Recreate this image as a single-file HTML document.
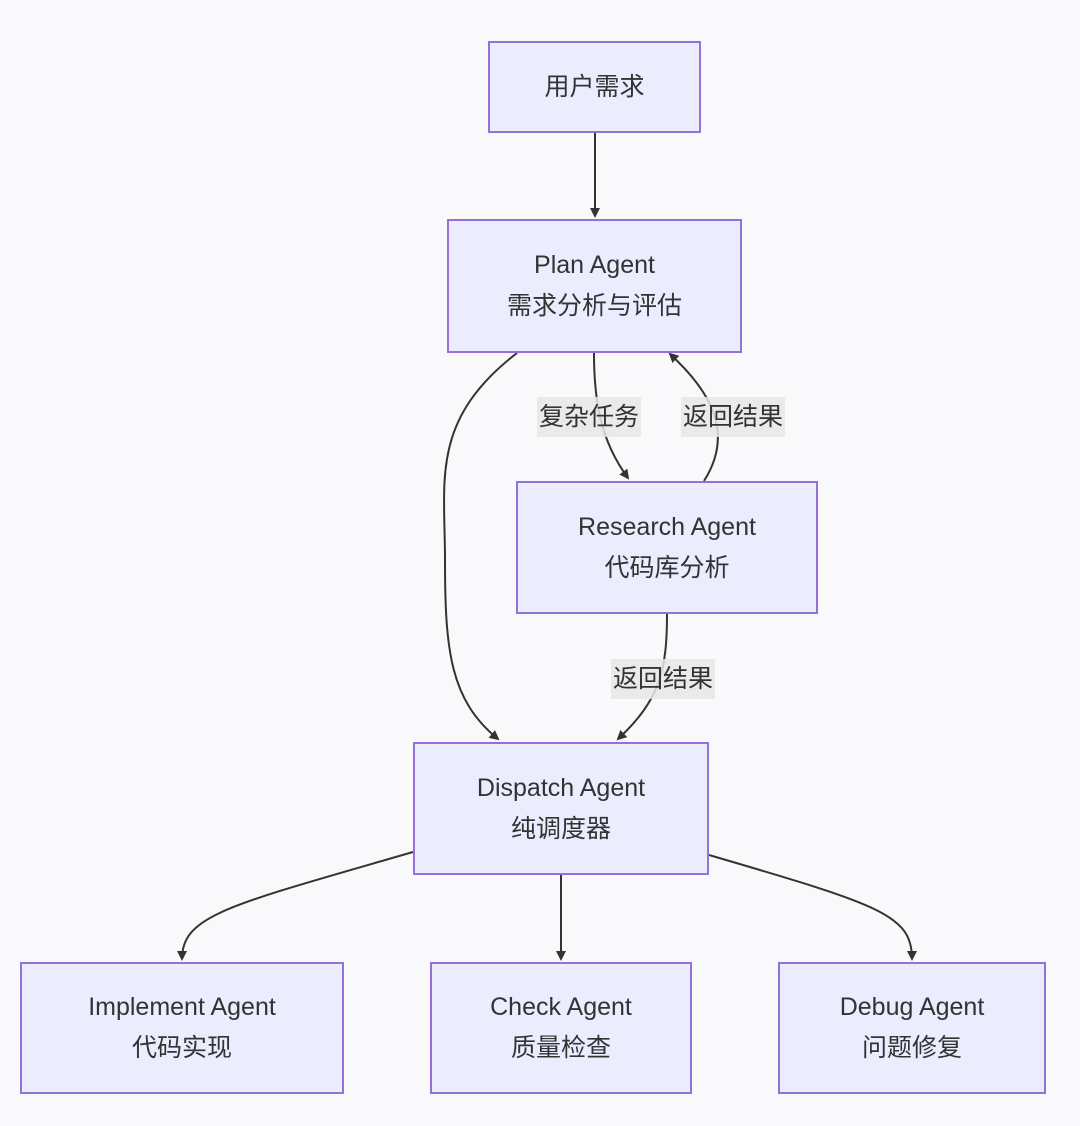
<!DOCTYPE html>
<html><head><meta charset="utf-8"><style>
html,body{margin:0;padding:0;background:#f9f9fc;}
.w{position:relative;width:1080px;height:1126px;font-family:"Liberation Sans","Noto Sans CJK SC",sans-serif;color:#333;}
.n{position:absolute;box-sizing:border-box;background:#ececff;border:2px solid #9370db;display:flex;flex-direction:column;align-items:center;justify-content:center;font-size:25px;line-height:41px;text-align:center;}
.l{position:absolute;background:rgba(232,232,232,0.85);font-size:25px;line-height:40px;padding:0 2px;}
svg{position:absolute;left:0;top:0;}
</style></head><body><div class="w">
<svg width="1080" height="1126">
<defs><marker id="a" markerWidth="10" markerHeight="10" refX="8" refY="5" orient="auto" markerUnits="userSpaceOnUse"><path d="M0,0 L10,5 L0,10 z" fill="#333"/></marker></defs>
<g fill="none" stroke="#333" stroke-width="2">
<path d="M595,133 L595,216" marker-end="url(#a)"/>
<path d="M594,353 C594,400 600,440 628,478" marker-end="url(#a)"/>
<path d="M704,481 C730,440 720,400 670,354" marker-end="url(#a)"/>
<path d="M517,353 C430,420 445,480 445,560 C445,650 450,700 498,739" marker-end="url(#a)"/>
<path d="M667,614 C667,670 660,700 618,739" marker-end="url(#a)"/>
<path d="M413,852 C230,905 182,915 182,959" marker-end="url(#a)"/>
<path d="M561,875 L561,959" marker-end="url(#a)"/>
<path d="M709,855 C880,905 912,915 912,959" marker-end="url(#a)"/>
</g></svg>
<div class="n" style="left:488px;top:41px;width:213px;height:92px">用户需求</div>
<div class="n" style="left:447px;top:219px;width:295px;height:134px"><div>Plan Agent</div><div>需求分析与评估</div></div>
<div class="n" style="left:516px;top:481px;width:302px;height:133px"><div>Research Agent</div><div>代码库分析</div></div>
<div class="n" style="left:413px;top:742px;width:296px;height:133px"><div>Dispatch Agent</div><div>纯调度器</div></div>
<div class="n" style="left:20px;top:962px;width:324px;height:132px"><div>Implement Agent</div><div>代码实现</div></div>
<div class="n" style="left:430px;top:962px;width:262px;height:132px"><div>Check Agent</div><div>质量检查</div></div>
<div class="n" style="left:778px;top:962px;width:268px;height:132px"><div>Debug Agent</div><div>问题修复</div></div>
<div class="l" style="left:537px;top:397px">复杂任务</div>
<div class="l" style="left:681px;top:397px">返回结果</div>
<div class="l" style="left:611px;top:659px">返回结果</div>
</div></body></html>
